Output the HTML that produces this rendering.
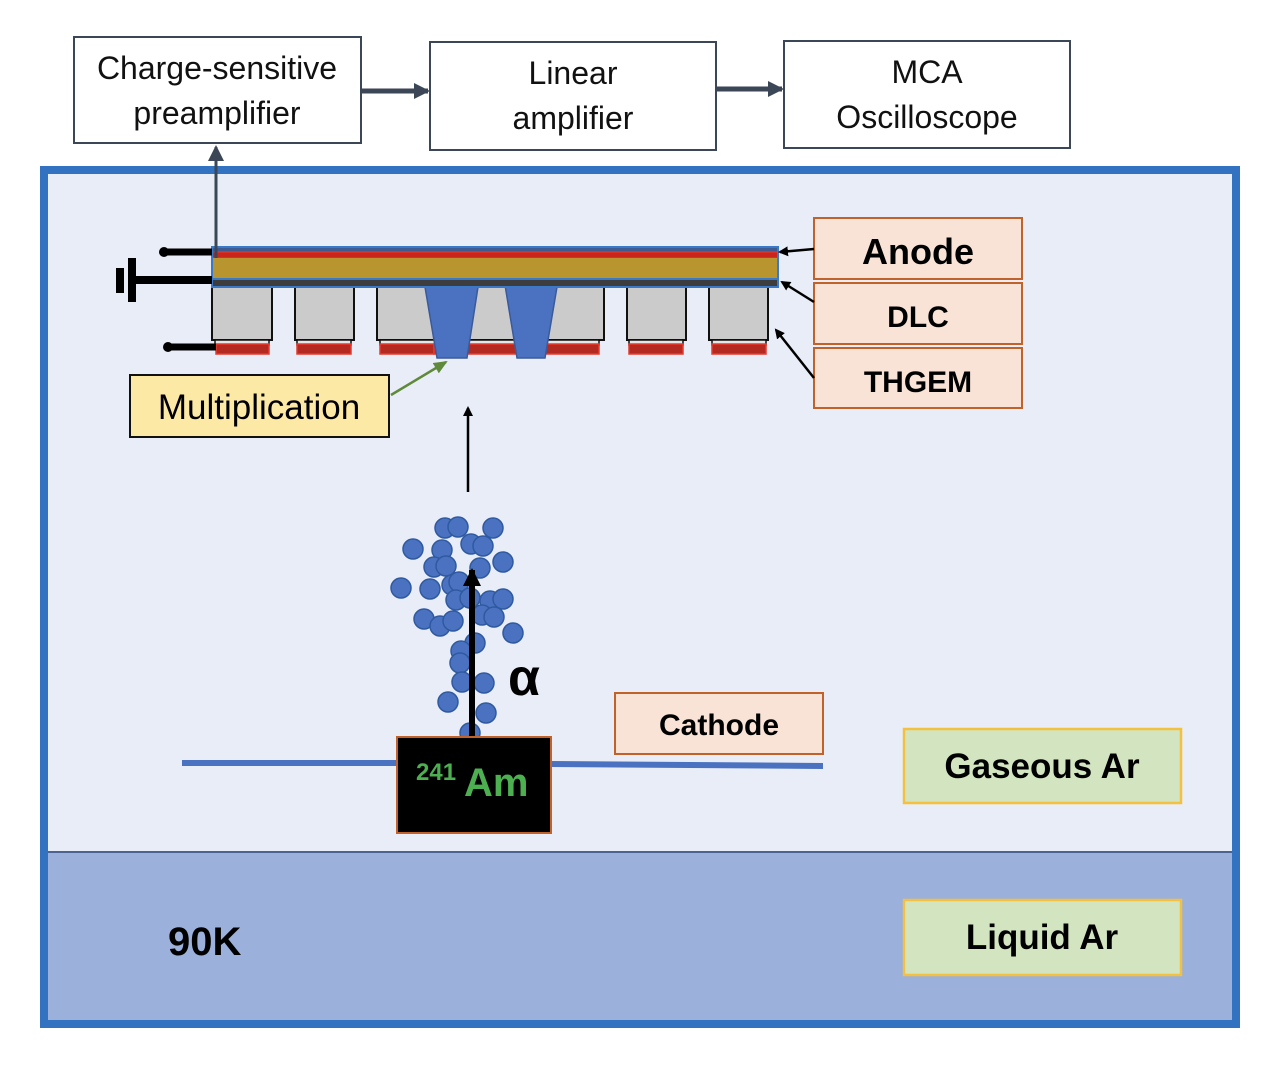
<!DOCTYPE html>
<html><head><meta charset="utf-8"><style>
html,body{margin:0;padding:0;background:#fff;}
svg{display:block;}
text{font-family:"Liberation Sans",sans-serif;}
</style></head><body>
<svg width="1276" height="1070" viewBox="0 0 1276 1070" xmlns="http://www.w3.org/2000/svg">
<defs>
<marker id="ah" markerWidth="10" markerHeight="10" refX="8" refY="5" orient="auto" markerUnits="userSpaceOnUse"><path d="M0,0 L10,5 L0,10 z" fill="#000"/></marker>
<marker id="ahd" markerWidth="16" markerHeight="16" refX="14" refY="8" orient="auto" markerUnits="userSpaceOnUse"><path d="M0,0 L16,8 L0,16 z" fill="#3b4656"/></marker>
<marker id="ahg" markerWidth="14" markerHeight="12" refX="12" refY="6" orient="auto" markerUnits="userSpaceOnUse"><path d="M0,0 L14,6 L0,12 z" fill="#5f8a3a"/></marker>
<marker id="aha" markerWidth="18" markerHeight="18" refX="16" refY="9" orient="auto" markerUnits="userSpaceOnUse"><path d="M0,0 L18,9 L0,18 z" fill="#000"/></marker>
</defs>
<rect width="1276" height="1070" fill="#fff"/>
<rect x="44" y="170" width="1192" height="854" fill="#e9edf7" stroke="#3272c0" stroke-width="8"/>
<rect x="48" y="852" width="1184" height="168" fill="#9bb0db"/>
<line x1="48" y1="852" x2="1232" y2="852" stroke="#4a6390" stroke-width="2"/>

<g fill="#fff" stroke="#3b4656" stroke-width="2">
<rect x="74" y="37" width="287" height="106"/>
<rect x="430" y="42" width="286" height="108"/>
<rect x="784" y="41" width="286" height="107"/>
</g>
<g font-size="32" fill="#111" text-anchor="middle">
<text x="217" y="79">Charge-sensitive</text>
<text x="217" y="124">preamplifier</text>
<text x="573" y="84">Linear</text>
<text x="573" y="129">amplifier</text>
<text x="927" y="83">MCA</text>
<text x="927" y="128">Oscilloscope</text>
</g>
<line x1="361" y1="91" x2="428" y2="91" stroke="#3b4656" stroke-width="5" marker-end="url(#ahd)"/>
<line x1="716" y1="89" x2="782" y2="89" stroke="#3b4656" stroke-width="5" marker-end="url(#ahd)"/>

<g fill="#cbcbcb" stroke="#111" stroke-width="2">
<rect x="212" y="287" width="60" height="53"/>
<rect x="295" y="287" width="59" height="53"/>
<rect x="377" y="287" width="227" height="53"/>
<rect x="627" y="287" width="59" height="53"/>
<rect x="709" y="287" width="59" height="53"/>
</g>
<g fill="#e6e6e6" stroke="#111" stroke-width="1.5">
<rect x="215" y="340" width="54" height="5"/>
<rect x="297" y="340" width="54" height="5"/>
<rect x="380" y="340" width="219" height="5"/>
<rect x="629" y="340" width="54" height="5"/>
<rect x="712" y="340" width="54" height="5"/>
</g>
<g fill="#b52a20" stroke="#e8392e" stroke-width="1.5">
<rect x="216" y="344" width="53" height="10"/>
<rect x="297" y="344" width="54" height="10"/>
<rect x="380" y="344" width="54" height="10"/>
<rect x="434" y="344" width="110" height="10"/>
<rect x="544" y="344" width="55" height="10"/>
<rect x="629" y="344" width="54" height="10"/>
<rect x="712" y="344" width="54" height="10"/>
</g>
<g fill="#4a72c0" stroke="#3a5a9a" stroke-width="1.5">
<polygon points="425,287 478,287 467,358 437,358"/>
<polygon points="505,285 557,287 545,358 517,358"/>
</g>
<rect x="212" y="247" width="566" height="5" fill="#3f5a90"/>
<rect x="212" y="252" width="566" height="6" fill="#c9251d" stroke="#e8392e" stroke-width="1"/>
<rect x="213" y="258" width="564" height="21" fill="#b8952f"/>
<rect x="213" y="280" width="564" height="7" fill="#3d3d3d"/>
<rect x="212" y="247" width="566" height="40" fill="none" stroke="#3a78c8" stroke-width="2"/>
<line x1="212" y1="279" x2="778" y2="279" stroke="#3a78c8" stroke-width="2"/>

<line x1="164" y1="252" x2="212" y2="252" stroke="#000" stroke-width="7"/>
<circle cx="164" cy="252" r="5" fill="#000"/>
<line x1="136" y1="280" x2="212" y2="280" stroke="#000" stroke-width="8"/>
<rect x="116" y="268" width="8" height="25" fill="#000"/>
<rect x="128" y="258" width="8" height="44" fill="#000"/>
<line x1="168" y1="347" x2="216" y2="347" stroke="#000" stroke-width="7"/>
<circle cx="168" cy="347" r="5" fill="#000"/>
<line x1="216" y1="258" x2="216" y2="147" stroke="#3b4656" stroke-width="3" marker-end="url(#ahd)"/>

<g fill="#f8e3d6" stroke="#c0622a" stroke-width="2">
<rect x="814" y="218" width="208" height="61"/>
<rect x="814" y="283" width="208" height="61"/>
<rect x="814" y="348" width="208" height="60"/>
<rect x="615" y="693" width="208" height="61"/>
</g>
<g font-weight="bold" fill="#000" text-anchor="middle">
<text x="918" y="264" font-size="36">Anode</text>
<text x="918" y="327" font-size="30">DLC</text>
<text x="918" y="392" font-size="30">THGEM</text>
<text x="719" y="735" font-size="30">Cathode</text>
</g>
<g stroke="#000" stroke-width="2.5">
<line x1="814" y1="249" x2="780" y2="252" marker-end="url(#ah)"/>
<line x1="814" y1="302" x2="782" y2="282" marker-end="url(#ah)"/>
<line x1="814" y1="378" x2="776" y2="330" marker-end="url(#ah)"/>
</g>

<rect x="130" y="375" width="259" height="62" fill="#fde9a6" stroke="#111" stroke-width="2"/>
<text x="259" y="419" font-size="35" text-anchor="middle" fill="#000">Multiplication</text>
<line x1="391" y1="395" x2="446" y2="362" stroke="#5f8a3a" stroke-width="2.5" marker-end="url(#ahg)"/>
<line x1="468" y1="492" x2="468" y2="408" stroke="#000" stroke-width="2.5" marker-end="url(#ah)"/>

<line x1="182" y1="763" x2="398" y2="763" stroke="#4a72c0" stroke-width="6"/>
<line x1="551" y1="764" x2="823" y2="766" stroke="#4a72c0" stroke-width="6"/>

<g fill="#4a72c0" stroke="#2f5aa0" stroke-width="1.5">
<circle cx="445" cy="528" r="10"/><circle cx="458" cy="527" r="10"/><circle cx="493" cy="528" r="10"/>
<circle cx="413" cy="549" r="10"/><circle cx="442" cy="550" r="10"/><circle cx="471" cy="544" r="10"/><circle cx="483" cy="546" r="10"/>
<circle cx="503" cy="562" r="10"/><circle cx="434" cy="567" r="10"/><circle cx="446" cy="566" r="10"/><circle cx="480" cy="568" r="10"/>
<circle cx="401" cy="588" r="10"/><circle cx="430" cy="589" r="10"/><circle cx="452" cy="585" r="10"/><circle cx="459" cy="582" r="10"/>
<circle cx="456" cy="600" r="10"/><circle cx="470" cy="598" r="10"/><circle cx="490" cy="601" r="10"/><circle cx="503" cy="599" r="10"/>
<circle cx="424" cy="619" r="10"/><circle cx="440" cy="626" r="10"/><circle cx="453" cy="621" r="10"/><circle cx="482" cy="615" r="10"/><circle cx="494" cy="617" r="10"/>
<circle cx="513" cy="633" r="10"/><circle cx="475" cy="643" r="10"/><circle cx="461" cy="651" r="10"/><circle cx="460" cy="663" r="10"/>
<circle cx="462" cy="682" r="10"/><circle cx="484" cy="683" r="10"/><circle cx="448" cy="702" r="10"/><circle cx="486" cy="713" r="10"/>
<circle cx="470" cy="733" r="10"/>
</g>
<line x1="472" y1="740" x2="472" y2="570" stroke="#000" stroke-width="6" marker-end="url(#aha)"/>
<text x="508" y="695" font-size="52" font-weight="bold" fill="#000">α</text>

<rect x="397" y="737" width="154" height="96" fill="#000" stroke="#c0622a" stroke-width="2"/>
<text x="416" y="780" font-size="24" font-weight="bold" fill="#4caf50">241</text>
<text x="464" y="796" font-size="40" font-weight="bold" fill="#4caf50">Am</text>

<g fill="#d3e4c0" stroke="#f3c13f" stroke-width="2.5">
<rect x="904" y="729" width="277" height="74"/>
<rect x="904" y="900" width="277" height="75"/>
</g>
<g font-weight="bold" fill="#000" text-anchor="middle" font-size="35">
<text x="1042" y="778">Gaseous Ar</text>
<text x="1042" y="949">Liquid Ar</text>
</g>
<text x="168" y="955" font-size="40" font-weight="bold" fill="#000">90K</text>
</svg>
</body></html>
